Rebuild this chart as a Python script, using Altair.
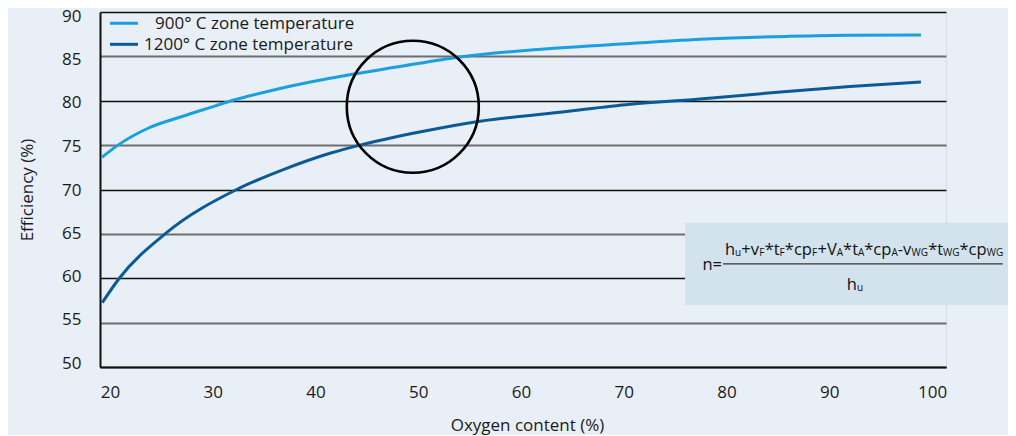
import altair as alt
import pandas as pd

# ---------------- data ----------------
x_ticks = [20, 30, 40, 50, 60, 70, 80, 90, 100]
y_ticks = [50, 55, 60, 65, 70, 75, 80, 85, 90]

series_900 = "900° C zone temperature"
series_1200 = "1200° C zone temperature"
legend_order = [series_900, series_1200]

x_900 = [19.22, 20.78, 23.70, 26.94, 30.19, 31.81, 33.43, 36.35, 41.41, 48.2, 54.06, 62.0, 70.61, 78.0, 85.88, 92.0, 98.92]
y_900 = [73.63, 75.0, 76.9, 78.2, 79.4, 80.0, 80.5, 81.33, 82.53, 83.85, 84.93, 85.8, 86.45, 86.95, 87.25, 87.38, 87.4]

x_1200 = [19.25, 20.91, 25.36, 32.33, 37.0, 41.41, 44.33, 50.0, 56.01, 63.79, 70.61, 77.42, 85.88, 92.01, 98.92]
y_1200 = [57.25, 60.0, 65.0, 70.0, 72.3, 74.08, 75.0, 76.45, 77.7, 78.7, 79.6, 80.2, 81.05, 81.6, 82.1]

x_title = "Oxygen content (%)"
y_title = "Efficiency (%)"

# formula text pieces: (text, level) m = main, s = subscript
formula_lhs = "n="
numerator = [("h", "m"), ("u", "s"), ("+v", "m"), ("F", "s"), ("*t", "m"), ("F", "s"),
             ("*cp", "m"), ("F", "s"), ("+V", "m"), ("A", "s"), ("*t", "m"), ("A", "s"),
             ("*cp", "m"), ("A", "s"), ("-v", "m"), ("WG", "s"), ("*t", "m"), ("WG", "s"),
             ("*cp", "m"), ("WG", "s")]
denominator = [("h", "m"), ("u", "s")]

# ---------------- annotation anchors (data units) ----------------
circle_x, circle_y = 49.47, 79.33
box_x1, box_x2, box_y1, box_y2 = 75.96, 108.17, 56.99, 66.26
num_x, num_y = 79.85, 62.62
line_x1, line_x2, line_y = 79.66, 106.9, 61.61
lhs_x, lhs_y = 79.56, 60.93
den_cx, den_y = 92.5, 58.68
leg_sym_x1, leg_sym_x2 = 20.0, 22.73
leg_rows_y = [88.73, 86.36]
leg_text_x = [24.38, 23.31]

# ---------------- styles / layout ----------------
X_DOMAIN = [19.03, 101.36]
Y_DOMAIN = [50, 90]
W, H = 846, 355
PXX = W / (X_DOMAIN[1] - X_DOMAIN[0])
PXY = H / (Y_DOMAIN[1] - Y_DOMAIN[0])
BG = "#e9eff6"
BOX = "#d3e3ed"
LIGHT = "#1a9fe0"
DARK = "#0b5a98"
TXT = "#1a1a1a"
FONT = "Open Sans"
MAIN_FS, SUB_FS = 16.5, 10

ADV = {'h': 1257, 'u': 1257, '+': 1171, 'v': 1063, 'F': 1108, '*': 1120, 't': 719,
       'c': 1001, 'p': 1255, 'V': 1219, 'A': 1296, '-': 659, 'W': 1925, 'G': 1460,
       'n': 1257, '=': 1171}


def twidth(s, size):
    return sum(ADV.get(c, 1100) for c in s) / 2048 * size


def layout(pieces, x0, y0):
    rows = []
    cur = 0.0
    for t, lvl in pieces:
        fs = MAIN_FS if lvl == "m" else SUB_FS
        yy = y0 - (1.5 / PXY if lvl == "s" else 0)
        rows.append({"t": t, "x": x0 + cur / PXX, "y": yy, "fs": fs})
        cur += twidth(t, fs)
    return rows, cur


num_rows, _ = layout(numerator, num_x, num_y)
_, den_w = layout(denominator, 0, 0)
den_rows, _ = layout(denominator, den_cx - den_w / 2 / PXX, den_y)
df_text = pd.DataFrame(num_rows + den_rows)

df_lines = pd.DataFrame(
    {"x": x_900 + x_1200,
     "y": y_900 + y_1200,
     "series": [series_900] * len(x_900) + [series_1200] * len(x_1200)}
)

df_leg = pd.DataFrame({
    "series": legend_order,
    "x1": [leg_sym_x1] * 2, "x2": [leg_sym_x2] * 2,
    "y": leg_rows_y,
    "ty": [v - 1 / PXY for v in leg_rows_y],
    "tx": leg_text_x,
})

xs = alt.Scale(domain=X_DOMAIN, nice=False, zero=False)
ys = alt.Scale(domain=Y_DOMAIN, nice=False, zero=False)
cs = alt.Scale(domain=legend_order, range=[LIGHT, DARK])

x_axis = alt.Axis(
    values=x_ticks, grid=False, ticks=False, tickSize=0, labelPadding=17,
    labelFontSize=17, labelColor=TXT, labelFont=FONT,
    domainColor="#111", domainWidth=2,
    title=x_title, titleFontSize=17, titleFontWeight="normal", titleColor=TXT,
    titleFont=FONT, titleX=427, titleY=58, titleAlign="center", titleBaseline="middle",
)
y_axis = alt.Axis(
    values=y_ticks, grid=True, ticks=False, tickSize=0, labelPadding=19,
    labelFontSize=17, labelColor=TXT, labelFont=FONT,
    labelOffset={"condition": [
        {"test": "datum.value >= 90", "value": 4},
        {"test": "datum.value >= 85", "value": 3},
        {"test": "datum.value >= 80", "value": 2},
        {"test": "datum.value >= 70", "value": 1},
        {"test": "datum.value >= 65", "value": 0},
        {"test": "datum.value >= 60", "value": -2},
        {"test": "datum.value >= 55", "value": -3.5}], "value": -4},
    domainColor="#111", domainWidth=2,
    gridColor={"condition": {"test": "datum.value % 10 === 0", "value": "#111111"}, "value": "#6e6e6e"},
    gridWidth={"condition": {"test": "datum.value % 10 === 0", "value": 1.3}, "value": 1.9},
    title=y_title, titleFontSize=17, titleFontWeight="normal", titleColor=TXT,
    titleFont=FONT, titleX=-73, titleY=177.5, titleAngle=270, titleAlign="center",
    titleBaseline="middle",
)


def X(f):
    return alt.X(f, type="quantitative", scale=xs, axis=x_axis)


def Y(f):
    return alt.Y(f, type="quantitative", scale=ys, axis=y_axis)


box = alt.Chart(pd.DataFrame({"x1": [box_x1], "x2": [box_x2], "y1": [box_y1], "y2": [box_y2]})).mark_rect(
    color=BOX
).encode(x=X("x1"), x2="x2", y=Y("y1"), y2="y2")

frac = alt.Chart(pd.DataFrame({"x1": [line_x1], "x2": [line_x2], "y": [line_y]})).mark_rule(
    color="#333", strokeWidth=1.2
).encode(x=X("x1"), x2="x2", y=Y("y"))

ftext = alt.Chart(df_text).mark_text(
    align="left", baseline="alphabetic", font=FONT, color="#111"
).encode(x=X("x"), y=Y("y"), text="t:N", size=alt.Size("fs:Q", scale=None))

lhs = alt.Chart(pd.DataFrame({"x": [lhs_x], "y": [lhs_y], "t": [formula_lhs]})).mark_text(
    align="right", baseline="alphabetic", font=FONT, color="#111", fontSize=MAIN_FS
).encode(x=X("x"), y=Y("y"), text="t:N")

lines = alt.Chart(df_lines).mark_line(strokeWidth=3, interpolate="monotone").encode(
    x=X("x"), y=Y("y"),
    color=alt.Color("series:N", scale=cs, legend=None),
)

leg_sym = alt.Chart(df_leg).mark_rule(strokeWidth=3).encode(
    x=X("x1"), x2="x2", y=Y("y"), color=alt.Color("series:N", scale=cs, legend=None)
)
leg_txt = alt.Chart(df_leg).mark_text(
    align="left", baseline="middle", font=FONT, fontSize=17, color=TXT
).encode(x=X("tx"), y=Y("ty"), text="series:N")

circle = alt.Chart(pd.DataFrame({"x": [circle_x], "y": [circle_y]})).mark_point(
    shape="circle", size=17424, filled=False, strokeWidth=2.6, color="#000", opacity=1
).encode(x=X("x"), y=Y("y"))

chart = alt.layer(box, frac, ftext, lhs, lines, circle, leg_sym, leg_txt).properties(
    width=W, height=H,
    autosize=alt.AutoSizeParams(type="none"),
    padding={"left": 92, "top": 4, "right": 62, "bottom": 68},
    background=BG,
).configure_view(strokeWidth=0).configure(font=FONT)

chart.save("out.html", embed_options={"renderer": "svg", "actions": False})
